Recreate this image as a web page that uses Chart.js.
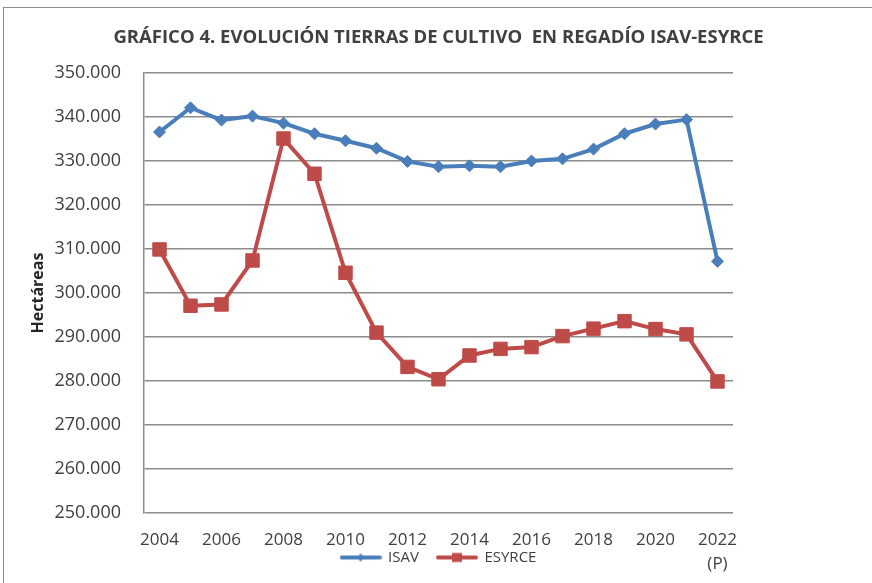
<!DOCTYPE html>
<html>
<head>
<meta charset="utf-8">
<script src="https://cdn.jsdelivr.net/npm/chart.js"></script>
<style>
    html, body { margin: 0; padding: 0; background: #fff; }
    #caja { width: 872px; height: 583px; position: relative; }
</style>
</head>
<body>
<div id="caja"><canvas id="grafico"></canvas></div>
<script>
    const years = ['2004', '2005', '2006', '2007', '2008', '2009', '2010', '2011', '2012', '2013',
                   '2014', '2015', '2016', '2017', '2018', '2019', '2020', '2021', '2022'];
    const isav = [336600, 342100, 339300, 340200, 338600, 336200, 334600, 332900, 329900, 328700,
                  328900, 328700, 330000, 330500, 332700, 336200, 338400, 339400, 307200];
    const esyrce = [309900, 297100, 297400, 307400, 335100, 327100, 304600, 291000, 283200, 280400,
                    285800, 287300, 287700, 290200, 291900, 293600, 291800, 290600, 279900];
    const yMin = 250000;
    const yMax = 350000;
    const yStep = 10000;

    const azul = '#4a7ebb';
    const rojo = '#be4b48';
    const gris = '#8c8c8c';
    const texto = '#404040';

    // icono de leyenda: linea con marcador
    function iconoLeyenda(color, forma) {
        const c = document.createElement('canvas');
        c.width = 42;
        c.height = 14;
        const g = c.getContext('2d');
        g.strokeStyle = color;
        g.lineWidth = 4;
        g.lineCap = 'round';
        g.beginPath();
        g.moveTo(2, 7);
        g.lineTo(40, 7);
        g.stroke();
        g.fillStyle = color;
        g.beginPath();
        if (forma === 'diamante') {
            g.moveTo(21, 3); g.lineTo(25, 7); g.lineTo(21, 11); g.lineTo(17, 7);
        } else {
            g.rect(16, 2.5, 10, 9);
        }
        g.fill();
        return c;
    }

    const marco = {
        id: 'marco',
        afterLayout(chart) {
            // que el "(P)" de la segunda linea no se recorte
            chart.scales.x._computeLabelArea = () => null;
        },
        beforeDraw(chart) {
            const ctx = chart.ctx;
            ctx.save();
            ctx.fillStyle = '#fff';
            ctx.fillRect(0, 0, chart.width, chart.height);
            ctx.strokeStyle = gris;
            ctx.lineWidth = 1;
            ctx.strokeRect(3.5, 7.5, 1000, 1000);
            ctx.restore();
        }
    };

    const ctx = document.getElementById('grafico').getContext('2d');

    new Chart(ctx, {
        type: 'line',
        data: {
            labels: years,
            datasets: [{
                label: 'ISAV',
                data: isav,
                borderColor: azul,
                backgroundColor: azul,
                borderWidth: 4,
                pointStyle: 'rectRot',
                pointRadius: 6,
                pointBorderWidth: 1,
                pointBackgroundColor: azul,
                pointBorderColor: azul,
                tension: 0
            }, {
                label: 'ESYRCE',
                data: esyrce,
                borderColor: rojo,
                backgroundColor: rojo,
                borderWidth: 4,
                pointStyle: 'rect',
                pointRadius: 9.5,
                pointBorderWidth: 1,
                pointBackgroundColor: rojo,
                pointBorderColor: rojo,
                tension: 0
            }]
        },
        options: {
            responsive: true,
            maintainAspectRatio: false,
            animation: false,
            layout: {
                padding: { left: 5, right: 0, top: 0, bottom: 8 }
            },
            scales: {
                x: {
                    offset: true,
                    grid: { display: false, drawTicks: false },
                    border: { display: false },
                    ticks: {
                        autoSkip: false,
                        maxRotation: 0,
                        padding: 15,
                        color: texto,
                        font: { family: "'Open Sans', sans-serif", size: 17, lineHeight: 1.4 },
                        callback: function(value, index) {
                            if (index % 2 === 1) return '';
                            const y = this.getLabelForValue(value);
                            return y === '2022' ? ['2022', '(P)'] : y;
                        }
                    },
                    afterFit: function(scale) { scale.height = 19; }
                },
                y: {
                    min: yMin,
                    max: yMax,
                    grid: { color: gris, lineWidth: 1.5, drawTicks: false },
                    border: { display: true, color: gris, width: 1.5 },
                    ticks: {
                        stepSize: yStep,
                        padding: 23,
                        color: texto,
                        font: { family: "'Open Sans', sans-serif", size: 18 },
                        callback: function(value) {
                            return value.toString().replace(/\B(?=(\d{3})+(?!\d))/g, '.');
                        }
                    },
                    title: {
                        display: true,
                        text: 'Hectáreas',
                        color: '#262626',
                        padding: { top: 24, bottom: 0 },
                        font: { family: "'Open Sans', sans-serif", size: 16, weight: 'bold' }
                    },
                    afterFit: function(scale) { scale.width = 139; }
                },
                // eje vacio a la derecha: solo reserva el margen blanco
                margen: {
                    type: 'linear',
                    position: 'right',
                    grid: { display: false },
                    border: { display: false },
                    ticks: { display: false },
                    afterFit: function(scale) { scale.width = 139; }
                }
            },
            plugins: {
                title: {
                    display: true,
                    text: 'GRÁFICO 4. EVOLUCIÓN TIERRAS DE CULTIVO  EN REGADÍO ISAV-ESYRCE',
                    color: texto,
                    padding: { top: 26.4, bottom: 24.4 },
                    font: { family: "'Open Sans', sans-serif", size: 18.5, weight: 'bold' }
                },
                legend: {
                    position: 'bottom',
                    fullSize: false,
                    labels: {
                        usePointStyle: true,
                        pointStyleWidth: 40,
                        padding: 18,
                        color: texto,
                        font: { family: "'Open Sans', sans-serif", size: 15 },
                        generateLabels: function(chart) {
                            return chart.data.datasets.map((ds, i) => ({
                                text: ds.label,
                                datasetIndex: i,
                                hidden: false,
                                fontColor: texto,
                                lineWidth: 0,
                                pointStyle: iconoLeyenda(ds.borderColor, i === 0 ? 'diamante' : 'cuadro')
                            }));
                        }
                    }
                },
                tooltip: { enabled: false }
            }
        },
        plugins: [marco]
    });
</script>
</body>
</html>
